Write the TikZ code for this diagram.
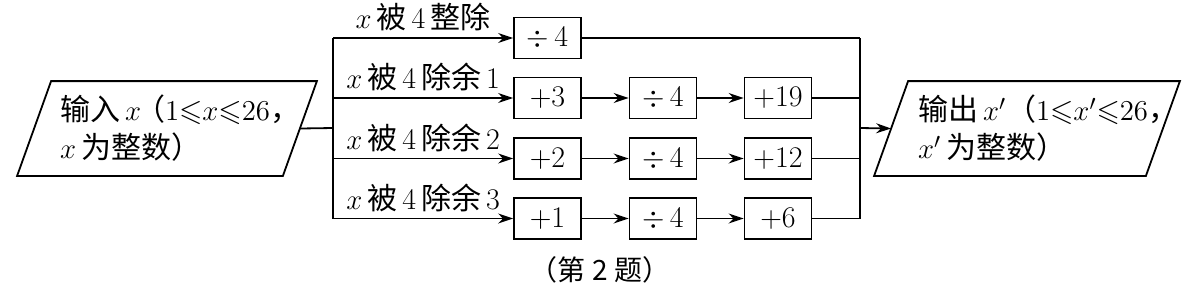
\documentclass[tikz,border=0pt]{standalone}
\usepackage{amssymb}
\usepackage{fontspec}
\newfontfamily\cjk{Noto Sans CJK SC}
\newcommand{\zh}[1]{{\cjk #1}}
\newcommand{\lpar}{\kern-0.2em\zh{（}}
\usetikzlibrary{arrows.meta,calc}
\begin{document}
\begin{tikzpicture}[x=0.5pt,y=-0.5pt,
  font=\fontsize{15}{19}\selectfont, line width=0.9pt,
  box/.style={draw, minimum width=33.5pt, minimum height=20.5pt, inner sep=0pt},
  io/.style={minimum width=132pt, minimum height=46.5pt, inner sep=0pt},
  lbl/.style={above, inner sep=3pt},
  arr/.style={-{Stealth[length=7.5pt,width=5pt]}}]
  \useasboundingbox (0,0) rectangle (1182,291);

  % Input / output
  \node[io] (in) at (167,128.5) {\hspace*{8pt}\parbox{115pt}{\mbox{\zh{输入}\,$x$\lpar$1{\leqslant}x{\leqslant}26$\zh{，}}\\$x$\,\zh{为整数）}}};
  \node[io] (out) at (1027,128.5) {\hspace*{13pt}\parbox{122pt}{\mbox{\zh{输出}\,$x'$\zh{（}$1{\leqslant}x'{\leqslant}26$\zh{，}}\\$x'$\,\zh{为整数）}}};
  \foreach \n in {in,out}
    \draw ($(\n.north west)+(17,0)$) -- ($(\n.north east)+(17,0)$)
      -- ($(\n.south east)+(-17,0)$) -- ($(\n.south west)+(-17,0)$) -- cycle;

  % Branch boxes
  \node[box] (d0) at (547.5,38) {$\div$\,4};
  \node[box] (a1) at (547.5,98) {+3};
  \node[box] (b1) at (663,98) {$\div$\,4};
  \node[box] (c1) at (778,98) {+19};
  \node[box] (a2) at (547.5,158.5) {+2};
  \node[box] (b2) at (663,158.5) {$\div$\,4};
  \node[box] (c2) at (778,158.5) {+12};
  \node[box] (a3) at (547.5,218.5) {+1};
  \node[box] (b3) at (663,218.5) {$\div$\,4};
  \node[box] (c3) at (778,218.5) {+6};

  \coordinate (split) at (333,128);
  \coordinate (merge) at (860,128);

  % Split
  \draw (in.east) -- (split);
  \draw (split |- d0) -- (split |- a3);
  \draw[arr] (split |- d0) -- node[lbl] {$x$\,\zh{被}\,4\,\zh{整除}} (d0.west);
  \draw[arr] (split |- a1) -- node[lbl] {$x$\,\zh{被}\,4\,\zh{除余}\,1} (a1.west);
  \draw[arr] (split |- a2) -- node[lbl] {$x$\,\zh{被}\,4\,\zh{除余}\,2} (a2.west);
  \draw[arr] (split |- a3) -- node[lbl] {$x$\,\zh{被}\,4\,\zh{除余}\,3} (a3.west);

  % Rows
  \foreach \i in {1,2,3} {
    \draw[arr] (a\i) -- (b\i);
    \draw[arr] (b\i) -- (c\i);
    \draw (c\i.east) -- (merge |- c\i);
  }
  \draw (d0.east) -- (merge |- d0);

  % Merge
  \draw (merge |- d0) -- (merge |- c3);
  \draw[arr] (merge) -- (out.west);

  \node (cap) at (600,270) {\fontsize{14}{16}\selectfont\zh{（第 2 题）}};
\end{tikzpicture}
\end{document}
